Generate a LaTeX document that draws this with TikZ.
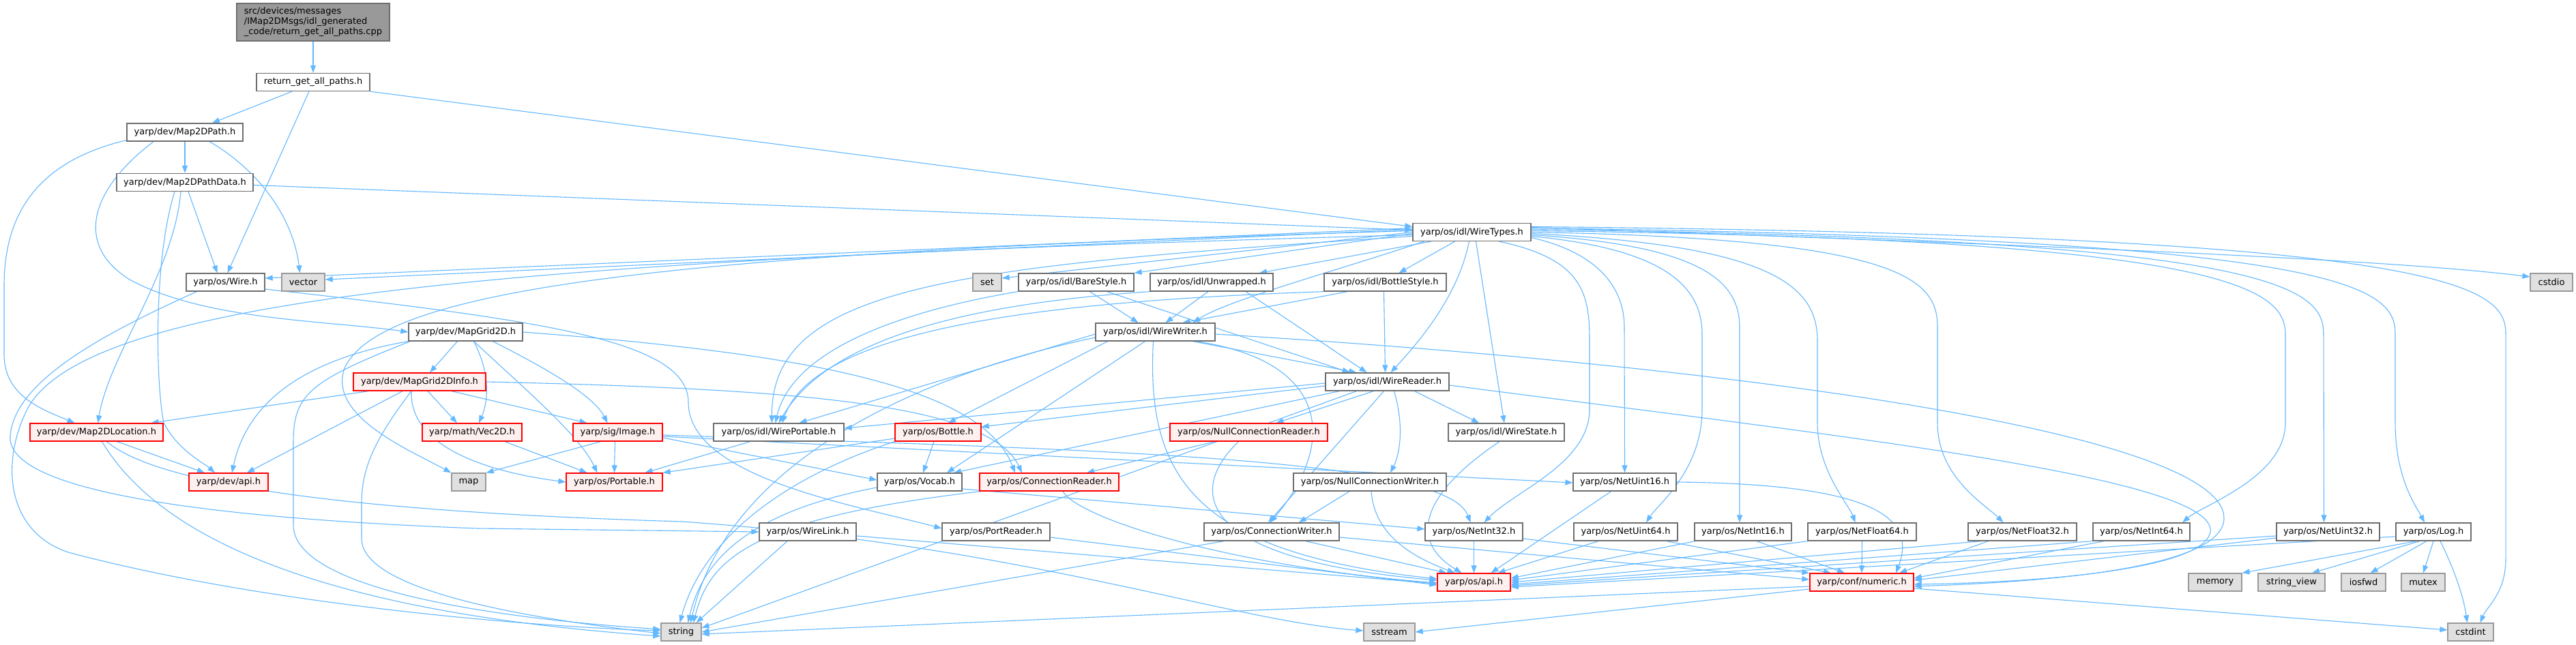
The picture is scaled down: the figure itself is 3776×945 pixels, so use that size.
\documentclass[tikz,border=0pt]{standalone}
\usepackage{fontspec}
\setmainfont{DejaVu Sans}
\usetikzlibrary{arrows.meta,backgrounds}
\definecolor{edgec}{RGB}{99,184,255}
\definecolor{redb}{RGB}{255,0,0}
\definecolor{redf}{RGB}{255,240,240}
\definecolor{grayf}{RGB}{224,224,224}
\definecolor{grayb}{RGB}{153,153,153}
\definecolor{whiteb}{RGB}{110,110,110}
\definecolor{mainf}{RGB}{153,153,153}
\begin{document}
\begin{tikzpicture}[x=1pt,y=-1pt,
  box/.style={rectangle, inner sep=0pt, minimum height=26pt, line width=1.3pt, font=\fontsize{13}{15}\selectfont},
  wn/.style={box, draw=whiteb, fill=white},
  rn/.style={box, draw=redb, fill=redf},
  gn/.style={box, draw=grayb, fill=grayf},
  mainn/.style={box, draw=whiteb, fill=mainf, align=left},
  edge/.style={draw=edgec, line width=1.1pt, -{Triangle[length=11pt,width=8pt]}}]
\useasboundingbox (0,0) rectangle (3776,945);
% nodes
\node[mainn, minimum width=224, minimum height=55] (main) at (459,32.5) {src/devices/messages\\/IMap2DMsgs/idl\_generated\\\_code/return\_get\_all\_paths.cpp};
\node[wn, minimum width=166] (rgap) at (459,120.5) {return\_get\_all\_paths.h};
\node[wn, minimum width=170] (mpath) at (271,194) {yarp/dev/Map2DPath.h};
\node[wn, minimum width=200] (mpd) at (271,267.5) {yarp/dev/Map2DPathData.h};
\node[wn, minimum width=173] (wt) at (2157.5,340.5) {yarp/os/idl/WireTypes.h};
\node[wn, minimum width=115] (wire) at (330.5,414) {yarp/os/Wire.h};
\node[gn, minimum width=63] (vector) at (444.5,414) {vector};
\node[gn, minimum width=42] (set) at (1447,414) {set};
\node[wn, minimum width=169] (bare) at (1577.5,414) {yarp/os/idl/BareStyle.h};
\node[wn, minimum width=180] (unw) at (1776,414) {yarp/os/idl/Unwrapped.h};
\node[wn, minimum width=179] (bstyle) at (2030.5,414) {yarp/os/idl/BottleStyle.h};
\node[gn, minimum width=62] (cstdio) at (3740,414) {cstdio};
\node[wn, minimum width=167] (grid) at (682.5,487) {yarp/dev/MapGrid2D.h};
\node[wn, minimum width=175] (ww) at (1693.5,487) {yarp/os/idl/WireWriter.h};
\node[rn, minimum width=194] (ginfo) at (615,560) {yarp/dev/MapGrid2DInfo.h};
\node[wn, minimum width=181] (wr) at (2033.5,560) {yarp/os/idl/WireReader.h};
\node[rn, minimum width=195] (loc) at (141.5,634) {yarp/dev/Map2DLocation.h};
\node[rn, minimum width=146] (vec2d) at (692,634) {yarp/math/Vec2D.h};
\node[rn, minimum width=131] (image) at (905.5,634) {yarp/sig/Image.h};
\node[wn, minimum width=191] (wport) at (1141.5,634) {yarp/os/idl/WirePortable.h};
\node[rn, minimum width=126] (bottle) at (1375,634) {yarp/os/Bottle.h};
\node[rn, minimum width=231] (ncr) at (1830.5,634) {yarp/os/NullConnectionReader.h};
\node[wn, minimum width=170] (wstate) at (2208,634) {yarp/os/idl/WireState.h};
\node[rn, minimum width=116] (devapi) at (335,707) {yarp/dev/api.h};
\node[gn, minimum width=50] (map) at (687,707) {map};
\node[rn, minimum width=141] (portable) at (900.5,707) {yarp/os/Portable.h};
\node[wn, minimum width=124] (vocab) at (1348,707) {yarp/os/Vocab.h};
\node[rn, minimum width=204] (cr) at (1538,707) {yarp/os/ConnectionReader.h};
\node[wn, minimum width=224] (ncw) at (2008,707) {yarp/os/NullConnectionWriter.h};
\node[wn, minimum width=151] (nu16) at (2381.5,707) {yarp/os/NetUint16.h};
\node[wn, minimum width=142] (wlink) at (1184,780) {yarp/os/WireLink.h};
\node[wn, minimum width=158] (preader) at (1460,780) {yarp/os/PortReader.h};
\node[wn, minimum width=198] (cw) at (1864,780) {yarp/os/ConnectionWriter.h};
\node[wn, minimum width=143] (ni32) at (2160.5,780) {yarp/os/NetInt32.h};
\node[wn, minimum width=152] (nu64) at (2383,780) {yarp/os/NetUint64.h};
\node[wn, minimum width=142] (ni16) at (2555,780) {yarp/os/NetInt16.h};
\node[wn, minimum width=159] (nf64) at (2729.5,780) {yarp/os/NetFloat64.h};
\node[wn, minimum width=159] (nf32) at (2964.5,780) {yarp/os/NetFloat32.h};
\node[wn, minimum width=142] (ni64) at (3139,780) {yarp/os/NetInt64.h};
\node[wn, minimum width=151] (nu32) at (3412.5,780) {yarp/os/NetUint32.h};
\node[wn, minimum width=110] (log) at (3567,780) {yarp/os/Log.h};
\node[rn, minimum width=107] (osapi) at (2160.5,854) {yarp/os/api.h};
\node[rn, minimum width=152] (num) at (2729,854) {yarp/conf/numeric.h};
\node[gn, minimum width=78] (memory) at (3247,854) {memory};
\node[gn, minimum width=98] (sview) at (3359,854) {string\_view};
\node[gn, minimum width=65] (iosfwd) at (3464.5,854) {iosfwd};
\node[gn, minimum width=64] (mutex) at (3552,854) {mutex};
\node[gn, minimum width=59] (string) at (998.5,927) {string};
\node[gn, minimum width=75] (sstream) at (2036.5,927) {sstream};
\node[gn, minimum width=67] (cstdint) at (3621.5,927) {cstdint};
% edges
\begin{pgfonlayer}{background}
\fill[white] (0,0) rectangle (3776,945);
\draw[edge] (main) -- (rgap);
\draw[edge] ([xshift=-31pt]rgap.south) -- ([xshift=40pt]mpath.north);
\draw[edge] ([xshift=-6pt]rgap.south) -- ([xshift=3pt]wire.north);
\draw[edge] (rgap.south east) -- ([yshift=8pt]wt.west);
\draw[edge] (mpath) -- (mpd);
\draw[edge] ([yshift=2pt]mpath.south west) .. controls (40,240) and (6,330) .. (6,420) -- (6,520) .. controls (6,580) and (60,600) .. ([xshift=-32pt]loc.north);
\draw[edge] ([xshift=-46pt]mpath.south) .. controls (130,280) and (110,360) .. (190,410) .. controls (300,470) and (480,470) .. (grid.west);
\draw[edge] ([xshift=36pt]mpath.south) .. controls (380,250) and (430,320) .. ([xshift=-5pt]vector.north);
\draw[edge] ([yshift=-4pt]mpd.east) -- ([yshift=3pt]wt.west);
\draw[edge] ([xshift=5pt]mpd.south) -- ([xshift=-12pt]wire.north);
\draw[edge] ([xshift=-6pt]mpd.south) .. controls (255,400) and (160,520) .. ([xshift=2pt]loc.north);
\draw[edge] ([xshift=-15pt]mpd.south) .. controls (225,380) and (228,560) .. (240,620) .. controls (260,660) and (300,680) .. ([xshift=-20pt]devapi.north);
\draw[edge] ([xshift=-42pt]wire.south) .. controls (150,490) and (20,560) .. (15,640) .. controls (10,720) and (300,760) .. (700,775) -- (wlink.west);
\draw[edge] ([yshift=-10pt]wire.east) .. controls (800,470) and (1009,500) .. (1009,590) .. controls (1009,700) and (1250,740) .. ([yshift=5pt]preader.west);
\draw[edge] ([yshift=6pt]wt.west) -- ([yshift=6pt]wire.east);
\draw[edge] ([yshift=4pt]wt.west) -- ([yshift=4pt]vector.east);
\draw[edge] (wt.west) -- ([yshift=6pt]set.east);
\draw[edge] ([yshift=-2pt]wt.west) -- (bare.north east);
\draw[edge] ([xshift=-60pt]wt.south) -- ([xshift=70pt]unw.north);
\draw[edge] ([xshift=-25pt]wt.south) -- ([xshift=20pt]bstyle.north);
\draw[edge] ([xshift=-70pt]wt.south) .. controls (1950,400) and (1800,440) .. ([xshift=55pt]ww.north);
\draw[edge] ([xshift=-4pt]wt.south) .. controls (2140,420) and (2100,480) .. ([xshift=5pt]wr.north);
\draw[edge] ([xshift=6pt]wt.south) -- ([xshift=-3pt]wstate.north);
\draw[edge] ([xshift=40pt]wt.south) .. controls (2320,380) and (2330,430) .. (2330,500) -- (2330,600) .. controls (2330,680) and (2220,720) .. ([xshift=15pt]ni32.north);
\draw[edge] ([yshift=-8pt]wt.east) .. controls (2340,370) and (2381,420) .. (2381,480) -- (nu16.north);
\draw[edge] ([yshift=-6pt]wt.east) .. controls (2440,365) and (2495,420) .. (2495,490) -- (2495,600) .. controls (2495,690) and (2430,740) .. ([xshift=30pt]nu64.north);
\draw[edge] ([yshift=-4pt]wt.east) .. controls (2490,360) and (2550,410) .. (2550,480) -- ([xshift=-5pt]ni16.north);
\draw[edge] ([yshift=-2pt]wt.east) .. controls (2600,360) and (2664,420) .. (2664,500) -- (2664,620) .. controls (2664,690) and (2710,740) .. ([xshift=-10pt]nf64.north);
\draw[edge] (wt.east) .. controls (2790,350) and (2840,410) .. (2840,480) -- (2840,620) .. controls (2840,700) and (2910,740) .. ([xshift=-28pt]nf32.north);
\draw[edge] ([yshift=2pt]wt.east) .. controls (3250,350) and (3350,420) .. (3350,490) -- (3350,620) .. controls (3350,700) and (3230,740) .. ([xshift=60pt]ni64.north);
\draw[edge] ([yshift=4pt]wt.east) .. controls (3330,350) and (3406,420) .. (3406,490) -- ([xshift=-6pt]nu32.north);
\draw[edge] ([yshift=6pt]wt.east) .. controls (3440,350) and (3511,420) .. (3511,490) -- (3511,620) .. controls (3511,700) and (3540,740) .. ([xshift=-13pt]log.north);
\draw[edge] ([yshift=8pt]wt.east) .. controls (3600,345) and (3673,420) .. (3673,490) -- (3673,820) .. controls (3673,870) and (3645,890) .. ([xshift=14pt]cstdint.north);
\draw[edge] ([yshift=7pt]wt.east) .. controls (3000,360) and (3500,380) .. ([yshift=8pt]cstdio.west);
\draw[edge] ([yshift=2pt]wt.west) .. controls (1000,370) and (560,420) .. (505,540) .. controls (480,610) and (600,660) .. (map.north west);
\draw[edge] ([yshift=-4pt]wt.west) .. controls (800,380) and (130,430) .. (40,600) .. controls (0,680) and (10,780) .. (100,810) .. controls (400,890) and (800,920) .. ([yshift=2pt]string.west);
\draw[edge] ([yshift=-6pt]wt.west) .. controls (1400,390) and (1130,420) .. ([xshift=-10pt]wport.north);
\draw[edge] ([xshift=-12pt]grid.south) -- ([xshift=15pt]ginfo.north);
\draw[edge] (grid.south west) .. controls (430,530) and (360,600) .. ([xshift=5pt]devapi.north);
\draw[edge] ([xshift=3pt]grid.south west) .. controls (450,560) and (430,580) .. (430,650) -- (430,770) .. controls (430,860) and (700,905) .. ([yshift=4pt]string.west);
\draw[edge] ([xshift=12pt]grid.south) .. controls (720,550) and (715,590) .. ([xshift=10pt]vec2d.north);
\draw[edge] ([xshift=12pt]grid.south) .. controls (780,580) and (850,640) .. ([xshift=-25pt]portable.north);
\draw[edge] ([xshift=40pt]grid.south) .. controls (800,540) and (870,580) .. ([xshift=-15pt]image.north);
\draw[edge] (grid.east) .. controls (1200,520) and (1440,570) .. ([xshift=-50pt]cr.north);
\draw[edge] ([xshift=-75pt]ginfo.south) -- ([xshift=80pt]loc.north);
\draw[edge] ([xshift=-25pt]ginfo.south) -- ([xshift=27pt]devapi.north);
\draw[edge] ([xshift=-12pt]ginfo.south) .. controls (545,650) and (530,690) .. (530,740) -- (530,790) .. controls (530,870) and (800,910) .. ([yshift=-2pt]string.west);
\draw[edge] ([xshift=-12pt]ginfo.south) .. controls (600,650) and (700,690) .. (portable.west);
\draw[edge] ([xshift=12pt]ginfo.south) -- ([xshift=-22pt]vec2d.north);
\draw[edge] ([xshift=47pt]ginfo.south) -- ([xshift=-45pt]image.north);
\draw[edge] (ginfo.east) .. controls (1150,570) and (1450,590) .. ([xshift=-40pt]cr.north);
\draw[edge] ([xshift=30pt]loc.south) -- ([xshift=-35pt]devapi.north);
\draw[edge] ([xshift=8pt]loc.south) .. controls (240,800) and (500,900) .. ([yshift=-6pt]string.west);
\draw[edge] ([xshift=15pt]loc.south) .. controls (230,710) and (500,750) .. (1000,765) .. controls (1500,800) and (1800,910) .. ([yshift=2pt]sstream.west);
\draw[edge] ([xshift=-25pt]image.south) -- (map.north east);
\draw[edge] ([xshift=-4pt]image.south) -- (portable.north);
\draw[edge] ([yshift=-8pt]image.east) -- ([yshift=3pt]vocab.west);
\draw[edge] ([yshift=-4pt]image.east) .. controls (1600,660) and (2120,670) .. ([xshift=-5pt]ni32.north);
\draw[edge] ([yshift=-6pt]image.east) -- ([yshift=-1pt]nu16.west);
\draw[edge] ([xshift=48pt]vec2d.south) -- ([xshift=-40pt]portable.north);
\draw[edge] ([xshift=-42pt]wport.south) -- ([xshift=45pt]portable.north);
\draw[edge] ([yshift=-9pt]bottle.west) -- (portable.north east);
\draw[edge] ([xshift=-6pt]bottle.south) -- ([xshift=5pt]vocab.north);
\draw[edge] (bottle.south west) .. controls (1150,700) and (1030,790) .. ([xshift=-2pt]string.north);
\draw[edge] ([xshift=-50pt]ncr.south) -- ([xshift=55pt]cr.north);
\draw[edge] ([xshift=-15pt]ncr.south) .. controls (1740,720) and (1750,820) .. ([yshift=3pt]osapi.west);
\draw[edge] ([yshift=-8pt]vocab.west) .. controls (1100,750) and (1030,820) .. ([xshift=10pt]string.north);
\draw[edge] ([yshift=-10pt]vocab.east) -- ([yshift=4pt]ni32.west);
\draw[edge] ([xshift=-100pt]cr.south) .. controls (1100,760) and (1040,820) .. ([xshift=18pt]string.north);
\draw[edge] ([xshift=20pt]cr.south) .. controls (1580,760) and (1800,830) .. ([yshift=-1pt]osapi.west);
\draw[edge] ([xshift=-30pt]wlink.south) -- ([xshift=22pt]string.north);
\draw[edge] ([yshift=-6pt]wlink.east) -- ([yshift=-2pt]osapi.west);
\draw[edge] ([yshift=-8pt]preader.east) -- ([yshift=-4pt]osapi.west);
\draw[edge] ([xshift=-70pt]cw.south) -- (string.east);
\draw[edge] ([xshift=50pt]cw.south) -- ([xshift=-40pt]osapi.north);
\draw[edge] ([yshift=-8pt]cw.east) -- ([yshift=4pt]num.west);
\draw[edge] ([xshift=-30pt]ncw.south) -- ([xshift=40pt]cw.north);
\draw[edge] ([xshift=2pt]ncw.south) .. controls (2015,790) and (2080,820) .. ([xshift=-28pt]osapi.north);
\draw[edge] ([xshift=-10pt]wstate.south) .. controls (2090,720) and (2060,790) .. ([xshift=-18pt]osapi.north);
\draw[edge] ([xshift=-20pt]nu16.south) -- ([xshift=25pt]osapi.north);
\draw[edge] (nu16.east) .. controls (2750,710) and (2810,760) .. ([xshift=50pt]num.north);
\draw[edge] (ni32) -- (osapi);
\draw[edge] ([yshift=-10pt]ni32.east) -- (num.north west);
\draw[edge] ([xshift=-40pt]nu64.south) -- ([xshift=35pt]osapi.north);
\draw[edge] ([xshift=60pt]nu64.south) -- ([xshift=-45pt]num.north);
\draw[edge] ([xshift=-70pt]ni16.south) -- ([yshift=6pt]osapi.east);
\draw[edge] ([xshift=20pt]ni16.south) -- ([xshift=-25pt]num.north);
\draw[edge] (nf64.south west) -- ([yshift=3pt]osapi.east);
\draw[edge] (nf64.south) -- (num.north);
\draw[edge] ([xshift=-60pt]nf32.south) -- (osapi.east);
\draw[edge] ([xshift=-50pt]nf32.south) -- ([xshift=55pt]num.north);
\draw[edge] (ni64.south west) -- ([yshift=-3pt]osapi.east);
\draw[edge] ([xshift=-55pt]ni64.south) -- ([yshift=6pt]num.east);
\draw[edge] ([yshift=-6pt]nu32.west) -- ([yshift=-5pt]osapi.east);
\draw[edge] ([yshift=-9pt]nu32.west) -- ([yshift=3pt]num.east);
\draw[edge] ([yshift=-7pt]log.west) -- ([yshift=-7pt]osapi.east);
\draw[edge] ([xshift=-25pt]log.south) -- (memory.north east);
\draw[edge] ([xshift=-20pt]log.south) -- ([xshift=30pt]sview.north);
\draw[edge] ([xshift=-10pt]log.south) -- ([xshift=10pt]iosfwd.north);
\draw[edge] (log.south) -- (mutex.north);
\draw[edge] ([xshift=10pt]log.south) .. controls (3600,840) and (3612,880) .. ([xshift=-5pt]cstdint.north);
\draw[edge] ([yshift=-6pt]num.west) -- ([yshift=-3pt]string.east);
\draw[edge] ([yshift=-10pt]num.west) -- (sstream.east);
\draw[edge] ([yshift=-9pt]num.east) -- ([yshift=3pt]cstdint.west);
\draw[edge] ([yshift=-5pt]wr.east) .. controls (2700,640) and (3250,700) .. (3240,780) .. controls (3230,840) and (2950,855) .. ([yshift=-3pt]num.east);
\draw[edge] ([yshift=-3pt]ww.east) .. controls (2600,540) and (3260,640) .. (3260,760) .. controls (3260,840) and (2950,855) .. ([yshift=-6pt]num.east);
\draw[edge] ([xshift=40pt]wr.south) -- ([xshift=-40pt]wstate.north);
\draw[edge] ([xshift=-20pt]wr.south) -- ([xshift=40pt]ncr.north);
\draw[edge] ([xshift=10pt]wr.south) .. controls (2060,630) and (2050,670) .. ([xshift=30pt]ncw.north);
\draw[edge] ([xshift=-5pt]wr.south) .. controls (1970,640) and (1900,720) .. ([xshift=-5pt]cw.north);
\draw[edge] ([yshift=-2pt]wr.west) -- ([yshift=6pt]wport.east);
\draw[edge] ([yshift=-6pt]wr.west) -- ([yshift=8pt]bottle.east);
\draw[edge] ([xshift=-70pt]wr.south) -- ([xshift=50pt]vocab.north);
\draw[edge] ([xshift=-45pt]wr.south) -- ([yshift=6pt]string.east);
\draw[edge] ([yshift=-3pt]ww.west) -- ([xshift=30pt]wport.north);
\draw[edge] ([yshift=-8pt]ww.west) .. controls (1300,560) and (1060,700) .. ([xshift=14pt]string.north);
\draw[edge] ([xshift=-70pt]ww.south) -- ([xshift=15pt]bottle.north);
\draw[edge] ([xshift=-15pt]ww.south) -- ([xshift=40pt]vocab.north);
\draw[edge] ([xshift=-3pt]ww.south) .. controls (1680,700) and (1750,810) .. ([yshift=5pt]osapi.west);
\draw[edge] ([xshift=55pt]ww.south) -- ([xshift=-45pt]wr.north);
\draw[edge] ([xshift=60pt]ww.south) .. controls (1950,530) and (1960,650) .. ([xshift=-2pt]cw.north);
\draw[edge] (bare.south west) .. controls (1300,460) and (1160,520) .. ([xshift=-5pt]wport.north);
\draw[edge] ([xshift=20pt]bare.south) -- ([xshift=-25pt]ww.north);
\draw[edge] ([xshift=45pt]bare.south) -- ([xshift=-55pt]wr.north);
\draw[edge] (unw.south west) .. controls (1350,450) and (1200,520) .. (wport.north);
\draw[edge] ([xshift=-5pt]unw.south) -- ([xshift=15pt]ww.north);
\draw[edge] ([xshift=50pt]unw.south) -- ([xshift=-30pt]wr.north);
\draw[edge] (bstyle.south west) .. controls (1600,440) and (1200,470) .. ([xshift=5pt]wport.north);
\draw[edge] ([xshift=-55pt]bstyle.south) -- ([xshift=40pt]ww.north);
\draw[edge] ([xshift=-2pt]bstyle.south) -- ([xshift=-3pt]wr.north);
\end{pgfonlayer}
\end{tikzpicture}
\end{document}
